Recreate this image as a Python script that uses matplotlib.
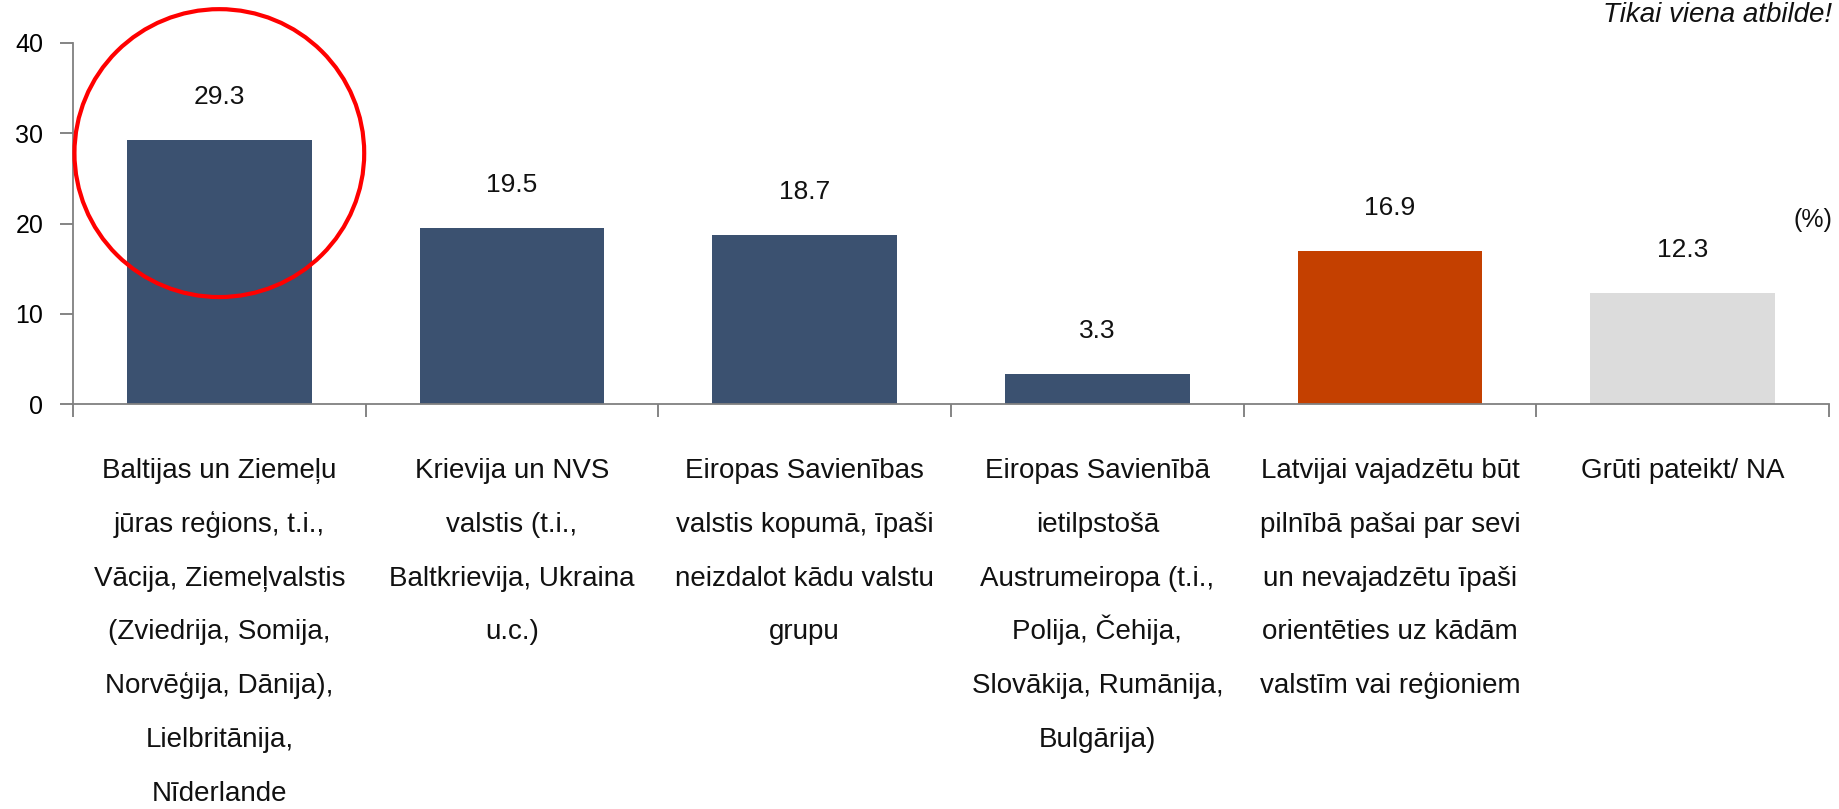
import matplotlib
matplotlib.use("Agg")
import matplotlib.pyplot as plt
from matplotlib.patches import Ellipse
from matplotlib.ticker import FixedLocator

plt.rcParams["font.family"] = ["Liberation Sans", "DejaVu Sans"]

# ── data ────────────────────────────────────────────────────────────────
categories = [
    "Baltijas un Ziemeļu\njūras reģions, t.i.,\nVācija, Ziemeļvalstis\n(Zviedrija, Somija,\n"
    "Norvēģija, Dānija),\nLielbritānija,\nNīderlande",
    "Krievija un NVS\nvalstis (t.i.,\nBaltkrievija, Ukraina\nu.c.)",
    "Eiropas Savienības\nvalstis kopumā, īpaši\nneizdalot kādu valstu\ngrupu",
    "Eiropas Savienībā\nietilpstošā\nAustrumeiropa (t.i.,\nPolija, Čehija,\n"
    "Slovākija, Rumānija,\nBulgārija)",
    "Latvijai vajadzētu būt\npilnībā pašai par sevi\nun nevajadzētu īpaši\n"
    "orientēties uz kādām\nvalstīm vai reģioniem",
    "Grūti pateikt/ NA",
]
values = [29.3, 19.5, 18.7, 3.3, 16.9, 12.3]
colors = ["#3B5170", "#3B5170", "#3B5170", "#3B5170", "#C44000", "#DCDCDC"]
y_ticks = [0, 10, 20, 30, 40]

# ── figure ──────────────────────────────────────────────────────────────
W, H = 1839, 809
fig = plt.figure(figsize=(W / 100, H / 100), dpi=100)
ax = fig.add_axes([73 / W, 1 - 404 / H, (1829 - 73) / W, (404 - 43) / H])

x = list(range(len(values)))
ax.bar(x, values, width=0.63, color=colors, zorder=2)

for xi, v in zip(x, values):
    ax.annotate(f"{v:.1f}", (xi, v), xytext=(0, 31), textcoords="offset points",
                ha="center", va="center", fontsize=19, color="#111111")

ax.set_xlim(-0.5, len(values) - 0.5)
ax.set_ylim(0, 40)
ax.set_yticks(y_ticks)
ax.set_xticks(x)
ax.set_xticklabels([])
ax.xaxis.set_minor_locator(FixedLocator([i - 0.5 for i in range(len(values) + 1)]))

# category labels, one line at a time so the line spacing stays even
for xi, lab in zip(x, categories):
    for j, line in enumerate(lab.split("\n")):
        ax.annotate(line, (xi, 0), xycoords=("data", "axes fraction"),
                    xytext=(0, -53.3 - j * 38.7), textcoords="offset points",
                    ha="center", va="baseline", fontsize=20, color="#111111",
                    annotation_clip=False)

ax.tick_params(axis="x", which="major", length=0)
ax.tick_params(axis="x", which="minor", length=9, width=1.2, color="#707070", direction="out")
ax.tick_params(axis="y", length=9.5, width=1.2, color="#707070", pad=12, labelsize=18)

for s in ("top", "right"):
    ax.spines[s].set_visible(False)
for s in ("left", "bottom"):
    ax.spines[s].set_color("#808080")
    ax.spines[s].set_linewidth(1.3)

# red highlight circle around the first bar
ax.add_patch(Ellipse((0, 27.8), width=0.99, height=31.9, fill=False,
                     edgecolor="#FF0000", linewidth=3, clip_on=False, zorder=3))

ax.text(1.002, 0.51, "(%)", transform=ax.transAxes, ha="right", va="center",
        fontsize=18, color="#111111")
fig.text(1832 / W, 1 - 22 / H, "Tikai viena atbilde!", ha="right", va="baseline",
         fontsize=20, style="italic", color="#111111")

fig.savefig("out.png", dpi=100)
